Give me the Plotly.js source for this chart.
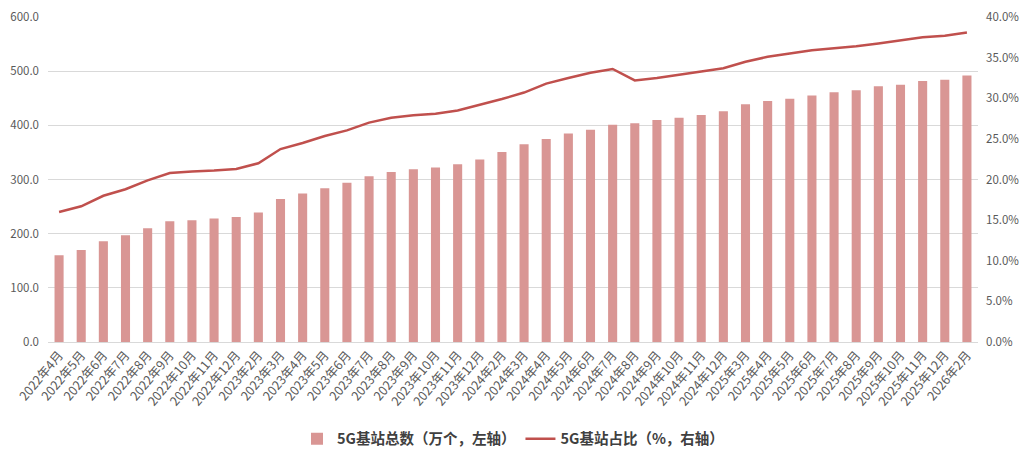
<!DOCTYPE html>
<html>
<head>
<meta charset="utf-8">
<script src="https://cdn.plot.ly/plotly-3.0.1.min.js"></script>
<style>html,body{margin:0;padding:0;background:#fff;}#chart{width:1028px;height:450px;}</style>
</head>
<body>
<div id="chart"></div>
<script>
const categories = ["2022年4月","2022年5月","2022年6月","2022年7月","2022年8月","2022年9月","2022年10月","2022年11月","2022年12月","2023年2月","2023年3月","2023年4月","2023年5月","2023年6月","2023年7月","2023年8月","2023年9月","2023年10月","2023年11月","2023年12月","2024年2月","2024年3月","2024年4月","2024年5月","2024年6月","2024年7月","2024年8月","2024年9月","2024年10月","2024年11月","2024年12月","2025年3月","2025年4月","2025年5月","2025年6月","2025年7月","2025年8月","2025年9月","2025年10月","2025年11月","2025年12月","2026年2月"];
const stationTotal = [160,170,186,197,210,223,225,228,231,239,264,274,284,294,306,314,319,322,328,337,351,365,375,385,392,401,404,410,414,419,426,439,445,449,455,461,465,472,475,482,484,492];
const stationShare = [16.0,16.7,18.0,18.8,19.9,20.8,21.0,21.1,21.3,22.0,23.75,24.5,25.35,26.05,27.0,27.6,27.9,28.1,28.5,29.2,29.9,30.7,31.8,32.5,33.15,33.6,32.2,32.5,32.9,33.3,33.7,34.5,35.1,35.5,35.9,36.15,36.4,36.75,37.1,37.5,37.7,38.1];
const shareFrac = stationShare.map(v => v / 100);

const tickFont = {family: "Noto Sans CJK SC, sans-serif", size: 11.5, color: "#595959"};
const xTickFont = {family: "Noto Sans CJK SC, sans-serif", size: 12.5, color: "#595959"};

const traces = [
  {
    type: "bar", name: "5G基站总数（万个，左轴）",
    x: categories, y: stationTotal,
    marker: {color: "#d99694"},
    yaxis: "y"
  },
  {
    type: "scatter", mode: "lines", name: "5G基站占比（%，右轴）",
    x: categories, y: shareFrac,
    line: {color: "#c0504d", width: 2.5},
    yaxis: "y2"
  }
];

const layout = {
  width: 1028, height: 450,
  margin: {l: 48, r: 50, t: 17, b: 108, autoexpand: false},
  paper_bgcolor: "#ffffff", plot_bgcolor: "#ffffff",
  bargap: 0.59,
  showlegend: true,
  legend: {
    orientation: "h", x: 0.5, xanchor: "center", y: -0.298, yanchor: "middle",
    font: {family: "Noto Sans CJK SC, serif", size: 14.5, color: "#404040", weight: "bold"},
    itemwidth: 30, traceorder: "normal"
  },
  xaxis: {
    type: "category", tickangle: -50, tickfont: xTickFont,
    showgrid: false, showline: true, linecolor: "#d9d9d9", linewidth: 1,
    ticks: "", automargin: false
  },
  yaxis: {
    range: [0, 600], dtick: 100, tickformat: ".1f",
    tickfont: tickFont, showgrid: true, gridcolor: "#d9d9d9", gridwidth: 1,
    zeroline: false, showline: false, ticks: "", ticklabelstandoff: 8, automargin: false
  },
  yaxis2: {
    range: [0, 0.40], dtick: 0.05, tickformat: ".1%",
    overlaying: "y", side: "right",
    tickfont: tickFont, showgrid: false, zeroline: false, showline: false,
    ticks: "", ticklabelstandoff: 7, automargin: false
  }
};

Plotly.newPlot("chart", traces, layout, {displayModeBar: false, staticPlot: true});
</script>
</body>
</html>
